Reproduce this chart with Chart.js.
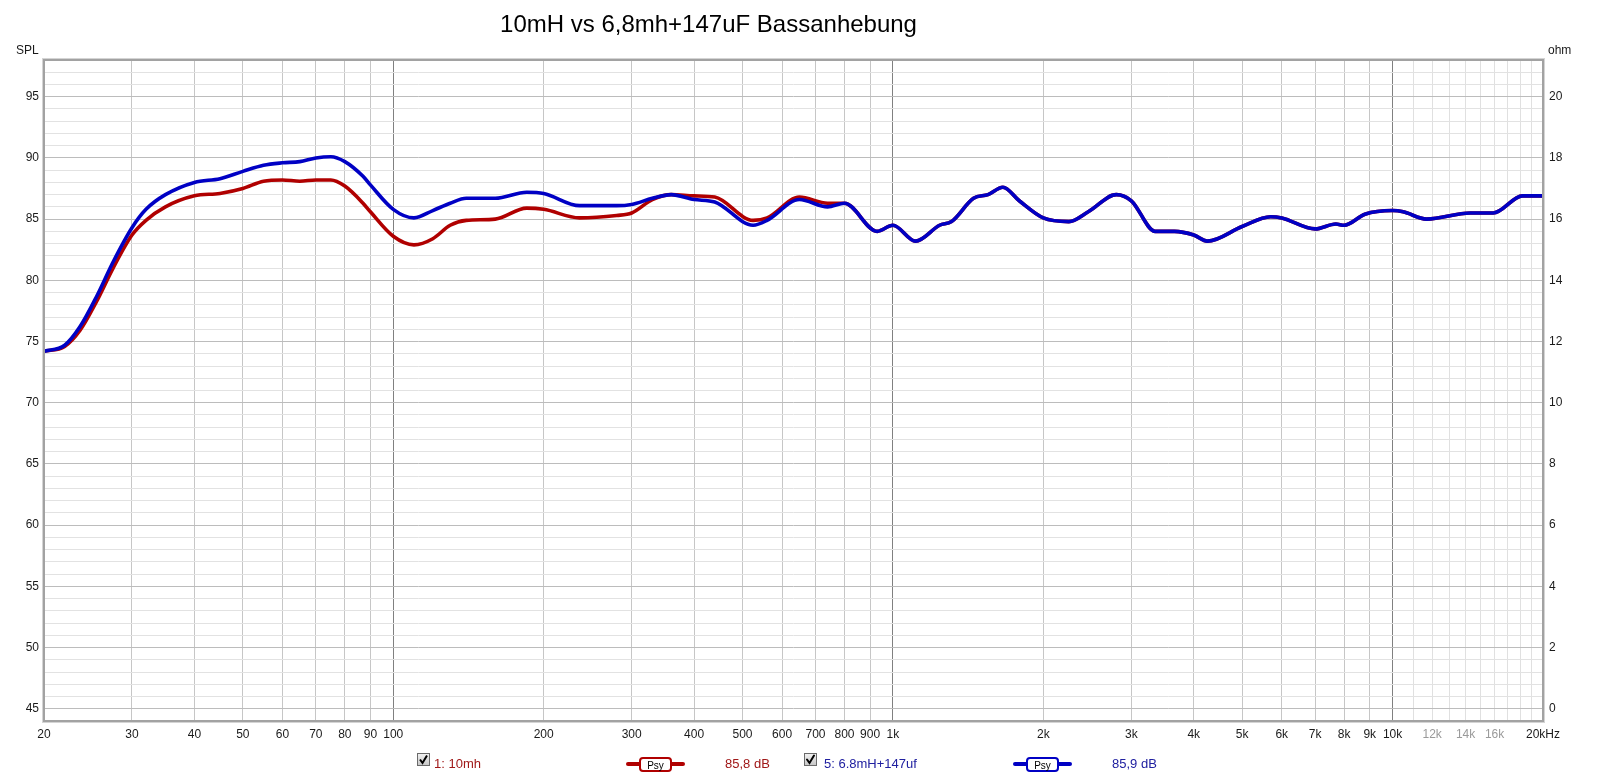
<!DOCTYPE html>
<html>
<head>
<meta charset="utf-8">
<script src="https://cdn.jsdelivr.net/npm/chart.js@4.4.0/dist/chart.umd.min.js"></script>
<style>
  body { margin: 0; background: #fff; }
  #wrap { width: 1600px; height: 778px; }
</style>
</head>
<body>
<div id="wrap"><canvas id="chart" width="1600" height="778"></canvas></div>
<script>
// messpunkte (Hz) und pegel (dB)
const freqs = [20, 22, 23.6, 25.5, 27.5, 30, 32, 35, 40, 45, 50, 55, 60, 65, 70, 75, 80, 87, 90, 100,
  110, 120, 130, 140, 160, 185, 200, 236, 280, 300, 330, 360, 400, 440, 525, 560, 650, 740, 800, 930,
  1000, 1110, 1240, 1310, 1450, 1550, 1660, 1790, 2000, 2250, 2460, 2800, 3000, 3350, 3660, 4000, 4260,
  5000, 5700, 6000, 7000, 7700, 8000, 8800, 10000, 10500, 11700, 14300, 15900, 18200, 20000];

const spl10mh = [74.2, 74.6, 75.9, 78.3, 81.0, 83.7, 84.9, 86.0, 86.9, 87.1, 87.5, 88.1, 88.2, 88.1, 88.2, 88.2, 87.7, 86.3, 85.6, 83.6,
  82.9, 83.4, 84.5, 84.9, 85.0, 85.9, 85.8, 85.1, 85.3, 85.5, 86.6, 87.0, 86.9, 86.8, 84.9, 85.1, 86.8, 86.3, 86.3, 84.0,
  84.5, 83.2, 84.5, 84.8, 86.7, 87.0, 87.6, 86.5, 85.1, 84.8, 85.6, 87.0, 86.5, 84.0, 84.0, 83.7, 83.2,
  84.4, 85.2, 85.1, 84.2, 84.6, 84.5, 85.4, 85.7, 85.6, 85.0, 85.5, 85.5, 86.9, 86.9];

const spl68mh = [74.2, 74.7, 76.2, 78.7, 81.5, 84.3, 85.8, 87.0, 88.0, 88.3, 88.9, 89.4, 89.6, 89.7, 90.0, 90.1, 89.7, 88.5, 87.8, 85.8,
  85.1, 85.7, 86.3, 86.7, 86.7, 87.2, 87.1, 86.1, 86.1, 86.2, 86.7, 87.0, 86.6, 86.4, 84.5, 84.9, 86.6, 86.0, 86.3, 84.0,
  84.5, 83.2, 84.5, 84.8, 86.7, 87.0, 87.6, 86.5, 85.1, 84.8, 85.6, 87.0, 86.5, 84.0, 84.0, 83.7, 83.2,
  84.4, 85.2, 85.1, 84.2, 84.6, 84.5, 85.4, 85.7, 85.6, 85.0, 85.5, 85.5, 86.9, 86.9];

// achsenbeschriftungen
const freqTicks = [20, 30, 40, 50, 60, 70, 80, 90, 100, 200, 300, 400, 500, 600, 700, 800, 900,
  1000, 2000, 3000, 4000, 5000, 6000, 7000, 8000, 9000, 10000,
  11000, 12000, 13000, 14000, 15000, 16000, 17000, 18000, 19000, 20000];
const freqTickLabels = ['20', '30', '40', '50', '60', '70', '80', '90', '100', '200', '300', '400', '500', '600', '700', '800', '900',
  '1k', '2k', '3k', '4k', '5k', '6k', '7k', '8k', '9k', '10k',
  '', '12k', '', '14k', '', '16k', '', '', '', '20kHz'];
const ohmTicks = [0, 2, 4, 6, 8, 10, 12, 14, 16, 18, 20];

const seriesNames = ['1: 10mh', '5: 6.8mH+147uf'];
const seriesLevels = ['85,8 dB', '85,9 dB'];
const titleText = '10mH vs 6,8mh+147uF Bassanhebung';

const FONT = '"Liberation Sans", Arial, sans-serif';
const RED = '#b00000';
const BLUE = '#0000c4';

// rahmen um den plotbereich
const framePlugin = {
  id: 'frame',
  afterDatasetsDraw(chart) {
    const a = chart.chartArea;
    const c = chart.ctx;
    c.save();
    c.strokeStyle = '#d4d4d4';
    c.lineWidth = 1;
    c.strokeRect(a.left - 1.5, a.top - 1.5, a.right - a.left + 3, a.bottom - a.top + 3);
    c.strokeStyle = '#a2a2a2';
    c.lineWidth = 2;
    c.strokeRect(a.left, a.top, a.right - a.left, a.bottom - a.top);
    c.restore();
  }
};

function checkbox(c, x, y) {
  const g = c.createLinearGradient(0, y, 0, y + 13);
  g.addColorStop(0, '#f4f4f4');
  g.addColorStop(1, '#c4c4c4');
  c.fillStyle = g;
  c.fillRect(x, y, 13, 13);
  c.strokeStyle = '#6a6a6a';
  c.lineWidth = 1;
  c.strokeRect(x + 0.5, y + 0.5, 12, 12);
  c.strokeStyle = '#000';
  c.lineWidth = 2;
  c.beginPath();
  c.moveTo(x + 3, y + 6.5);
  c.lineTo(x + 5.5, y + 10);
  c.lineTo(x + 10, y + 2.5);
  c.stroke();
}

function psyIcon(c, x1, x2, color) {
  const y = 764;
  c.strokeStyle = color;
  c.lineCap = 'round';
  c.lineWidth = 4;
  c.beginPath();
  c.moveTo(x1, y);
  c.lineTo(x2, y);
  c.stroke();
  const bx = (x1 + x2) / 2 - 15.5;
  c.fillStyle = '#fff';
  c.lineWidth = 2;
  c.beginPath();
  c.roundRect(bx, 758, 31, 13, 3);
  c.fill();
  c.stroke();
  c.fillStyle = '#000';
  c.font = '10px ' + FONT;
  c.textAlign = 'center';
  c.textBaseline = 'alphabetic';
  c.fillText('Psy', bx + 15.5, 768.5);
}

// titel, achsentitel und legende
const textPlugin = {
  id: 'texts',
  afterDraw(chart) {
    const c = chart.ctx;
    c.save();
    c.textBaseline = 'alphabetic';
    c.fillStyle = '#000';
    c.font = '24px ' + FONT;
    c.textAlign = 'center';
    c.fillText(titleText, 708.5, 31.5);

    c.font = '12px ' + FONT;
    c.fillStyle = '#1a1a1a';
    c.textAlign = 'left';
    c.fillText('SPL', 16, 54);
    c.fillText('ohm', 1548, 54);

    checkbox(c, 417, 753);
    c.font = '13px ' + FONT;
    c.textAlign = 'left';
    c.fillStyle = '#a01818';
    c.fillText(seriesNames[0], 434, 768);
    psyIcon(c, 628, 683, RED);
    c.font = '13px ' + FONT;
    c.textAlign = 'left';
    c.fillStyle = '#a01818';
    c.fillText(seriesLevels[0], 725, 768);

    checkbox(c, 804, 753);
    c.font = '13px ' + FONT;
    c.textAlign = 'left';
    c.fillStyle = '#2020a0';
    c.fillText(seriesNames[1], 824, 768);
    psyIcon(c, 1015, 1070, BLUE);
    c.font = '13px ' + FONT;
    c.textAlign = 'left';
    c.fillStyle = '#2020a0';
    c.fillText(seriesLevels[1], 1112, 768);
    c.restore();
  }
};

const toPoints = vals => freqs.map((f, i) => ({ x: f, y: vals[i] }));

const ctx = document.getElementById('chart').getContext('2d');
new Chart(ctx, {
  type: 'line',
  data: {
    datasets: [
      {
        label: seriesNames[1],
        data: toPoints(spl68mh),
        borderColor: BLUE,
        borderWidth: 3.6,
        pointRadius: 0,
        cubicInterpolationMode: 'monotone',
        yAxisID: 'y'
      },
      {
        label: seriesNames[0],
        data: toPoints(spl10mh),
        borderColor: RED,
        borderWidth: 3.6,
        pointRadius: 0,
        cubicInterpolationMode: 'monotone',
        yAxisID: 'y'
      }
    ]
  },
  options: {
    responsive: false,
    animation: false,
    layout: { padding: { top: 60, left: 0, right: 0, bottom: 0 } },
    plugins: {
      legend: { display: false },
      title: { display: false },
      tooltip: { enabled: false }
    },
    scales: {
      x: {
        type: 'logarithmic',
        min: 20,
        max: 20000,
        afterBuildTicks: s => { s.ticks = freqTicks.map(v => ({ value: v })); },
        afterFit: s => { s.height = 57; },
        border: { display: false },
        grid: {
          drawTicks: false,
          lineWidth: 1,
          color: c => {
            const v = c.tick ? c.tick.value : 0;
            if (v === 100 || v === 1000 || v === 10000) return '#808080';
            if (v > 10000) return '#e0e0e0';
            return '#c6c6c6';
          }
        },
        ticks: {
          autoSkip: false,
          maxRotation: 0,
          padding: 6,
          font: { family: FONT, size: 12 },
          color: c => (c.tick && c.tick.value > 10000 && c.tick.value < 20000) ? '#9a9a9a' : '#1a1a1a',
          callback: (v, i) => freqTickLabels[i]
        }
      },
      y: {
        position: 'left',
        min: 44,
        max: 98,
        afterBuildTicks: s => {
          const t = [];
          for (let v = 44; v <= 98; v++) t.push({ value: v });
          s.ticks = t;
        },
        afterFit: s => { s.width = 44; },
        border: { display: false },
        grid: {
          drawTicks: false,
          color: c => (c.tick && c.tick.value % 5 === 0) ? '#bcbcbc' : '#e2e2e2'
        },
        ticks: {
          autoSkip: false,
          padding: 5,
          font: { family: FONT, size: 12 },
          color: '#1a1a1a',
          callback: v => (v % 5 === 0 ? String(v) : '')
        }
      },
      y2: {
        position: 'right',
        min: -0.4,
        max: 21.2,
        afterBuildTicks: s => { s.ticks = ohmTicks.map(v => ({ value: v })); },
        afterFit: s => { s.width = 57; },
        border: { display: false },
        grid: { drawOnChartArea: false, drawTicks: false },
        ticks: {
          autoSkip: false,
          padding: 6,
          font: { family: FONT, size: 12 },
          color: '#1a1a1a'
        }
      }
    }
  },
  plugins: [framePlugin, textPlugin]
});
</script>
</body>
</html>
